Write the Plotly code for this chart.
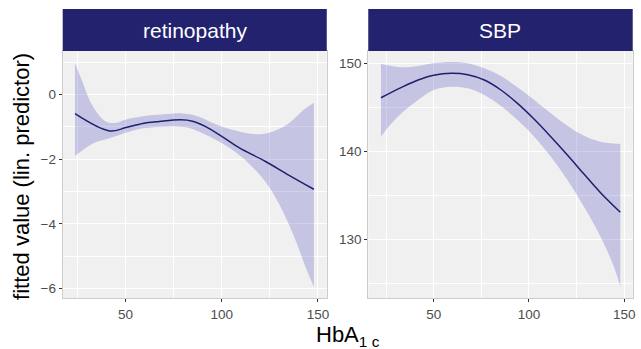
import plotly.graph_objects as go

# ---------------- data ----------------
panels = ["retinopathy", "SBP"]
x_axis_title = "HbA<sub>1 c</sub>"
y_axis_title = "fitted value (lin. predictor)"

# retinopathy (left)
ret_fit_x = [23.8, 41.7, 50.3, 59.0, 67.6, 78.6, 84.8, 91.7, 100.2, 109.0, 122.8, 134.8, 147.9]
ret_fit_y = [-0.59, -1.125, -1.02, -0.89, -0.83, -0.78, -0.82, -0.99, -1.30, -1.64, -2.07, -2.49, -2.93]
ret_up_x = [23.8, 28.0, 33.1, 40.0, 45.2, 50.3, 59.0, 70.0, 80.0, 88.3, 96.9, 105.5, 115.8, 124.5, 134.8, 142.6, 147.9]
ret_up_y = [0.99, 0.35, -0.37, -0.84, -0.87, -0.77, -0.67, -0.61, -0.58, -0.68, -0.92, -1.09, -1.22, -1.18, -0.89, -0.47, -0.25]
ret_lo_x = [23.8, 33.1, 41.7, 50.3, 59.0, 71.0, 81.9, 88.3, 96.9, 105.5, 115.8, 124.5, 131.4, 138.3, 143.5, 147.9]
ret_lo_y = [-1.90, -1.51, -1.35, -1.18, -1.04, -0.99, -1.02, -1.15, -1.40, -1.71, -2.23, -2.85, -3.57, -4.50, -5.33, -5.95]

# SBP (right)
sbp_fit_x = [22.3, 33.1, 41.8, 50.0, 59.2, 67.9, 76.6, 85.3, 94.0, 102.8, 111.5, 120.2, 128.9, 137.6, 148.0]
sbp_fit_y = [146.09, 147.27, 148.10, 148.64, 148.86, 148.70, 148.10, 146.97, 145.45, 143.64, 141.66, 139.58, 137.42, 135.30, 133.07]
sbp_up_x = [22.3, 33.1, 41.8, 50.0, 59.2, 67.9, 76.6, 85.3, 94.0, 102.8, 111.5, 120.2, 128.9, 137.6, 148.0]
sbp_up_y = [149.92, 149.55, 149.70, 150.00, 150.15, 150.00, 149.43, 148.56, 147.27, 145.83, 144.32, 142.91, 141.77, 141.09, 140.83]
sbp_lo_x = [22.3, 27.9, 33.1, 41.8, 50.0, 59.2, 67.9, 76.6, 85.3, 94.0, 102.8, 111.5, 120.2, 128.9, 137.6, 144.6, 148.0]
sbp_lo_y = [141.66, 143.18, 144.32, 145.83, 146.97, 147.34, 147.16, 146.40, 145.15, 143.56, 141.66, 139.39, 136.74, 133.70, 130.30, 126.89, 124.60]

left_x_ticks = [50, 100, 150]
left_y_ticks = [0, -2, -4, -6]
right_x_ticks = [50, 100, 150]
right_y_ticks = [130, 140, 150]

# ---------------- style ----------------
W, H = 641, 349
FONT = "Liberation Sans, Arial, Helvetica, sans-serif"
NAVY = "#22226F"
LINE = "#1F1F6E"
RIBBON = "rgba(100,100,200,0.30)"
PANEL_BG = "#F0F0F0"

def px_x(p):
    return p / W

def px_y(p):
    return 1 - p / H

L_X0, L_X1 = 63, 328.3
R_X0, R_X1 = 370, 635.7
P_Y0, P_Y1 = 51, 298.3   # panel top/bottom in px
S_Y0 = 9                 # strip top

fig = go.Figure()

def add_panel(xa, ya, fx, fy, ux, uy, lx, ly):
    fig.add_trace(go.Scatter(x=lx, y=ly, mode="lines", line=dict(width=0, shape="spline"),
                             xaxis=xa, yaxis=ya, showlegend=False, hoverinfo="skip"))
    fig.add_trace(go.Scatter(x=ux, y=uy, mode="lines", line=dict(width=0, shape="spline"),
                             fill="tonexty", fillcolor=RIBBON,
                             xaxis=xa, yaxis=ya, showlegend=False, hoverinfo="skip"))
    fig.add_trace(go.Scatter(x=fx, y=fy, mode="lines", line=dict(color=LINE, width=1.5, shape="spline"),
                             xaxis=xa, yaxis=ya, showlegend=False))

add_panel("x", "y", ret_fit_x, ret_fit_y, ret_up_x, ret_up_y, ret_lo_x, ret_lo_y)
add_panel("x2", "y2", sbp_fit_x, sbp_fit_y, sbp_up_x, sbp_up_y, sbp_lo_x, sbp_lo_y)

common_axis = dict(
    showgrid=True, gridcolor="white", gridwidth=1.1,
    zeroline=False, showline=True, linecolor="#CCCCCC", linewidth=1, mirror=True,
    ticks="outside", ticklen=3, tickwidth=1, tickcolor="#333333",
    tickfont=dict(family=FONT, size=13.5, color="#4D4D4D"),
)

ydom = [px_y(P_Y1), px_y(P_Y0)]

fig.update_layout(
    width=W, height=H,
    margin=dict(l=0, r=0, t=0, b=0),
    paper_bgcolor="white",
    plot_bgcolor=PANEL_BG,
    showlegend=False,
    xaxis=dict(domain=[px_x(L_X0), px_x(L_X1)], range=[17.4, 154.6], tickvals=left_x_ticks,
               anchor="y",
               minor=dict(showgrid=True, gridcolor="white", gridwidth=0.5, tick0=0, dtick=25, ticks=""),
               **common_axis),
    yaxis=dict(domain=ydom, range=[-6.308, 1.353], tickvals=left_y_ticks, anchor="x",
               minor=dict(showgrid=True, gridcolor="white", gridwidth=0.5, tick0=1, dtick=2, ticks=""),
               **common_axis),
    xaxis2=dict(domain=[px_x(R_X0), px_x(R_X1)], range=[15.65, 154.5], tickvals=right_x_ticks,
                anchor="y2",
                minor=dict(showgrid=True, gridcolor="white", gridwidth=0.5, tick0=0, dtick=25, ticks=""),
                **common_axis),
    yaxis2=dict(domain=ydom, range=[123.3, 151.4], tickvals=right_y_ticks, anchor="x2",
                minor=dict(showgrid=True, gridcolor="white", gridwidth=0.5, tick0=0, dtick=5, ticks=""),
                **common_axis),
)

# strips
for (x0, x1), label in zip([(L_X0, L_X1), (R_X0, R_X1)], panels):
    fig.add_shape(type="rect", xref="paper", yref="paper",
                  x0=px_x(x0), x1=px_x(x1), y0=px_y(P_Y0), y1=px_y(S_Y0),
                  fillcolor=NAVY, line=dict(width=0), layer="above")
    fig.add_annotation(text=label, xref="paper", yref="paper",
                       x=px_x((x0 + x1) / 2), y=px_y((S_Y0 + P_Y0) / 2),
                       xanchor="center", yanchor="middle", showarrow=False,
                       font=dict(family=FONT, size=21, color="white"))

# axis titles
fig.add_annotation(text=x_axis_title, xref="paper", yref="paper",
                   x=px_x((L_X0 + R_X1) / 2), y=px_y(336),
                   xanchor="center", yanchor="middle", showarrow=False,
                   font=dict(family=FONT, size=22, color="black"))
fig.add_annotation(text=y_axis_title, xref="paper", yref="paper",
                   x=px_x(21), y=px_y(176), textangle=-90,
                   xanchor="center", yanchor="middle", showarrow=False,
                   font=dict(family=FONT, size=22, color="black"))

fig.write_html("out.html")
